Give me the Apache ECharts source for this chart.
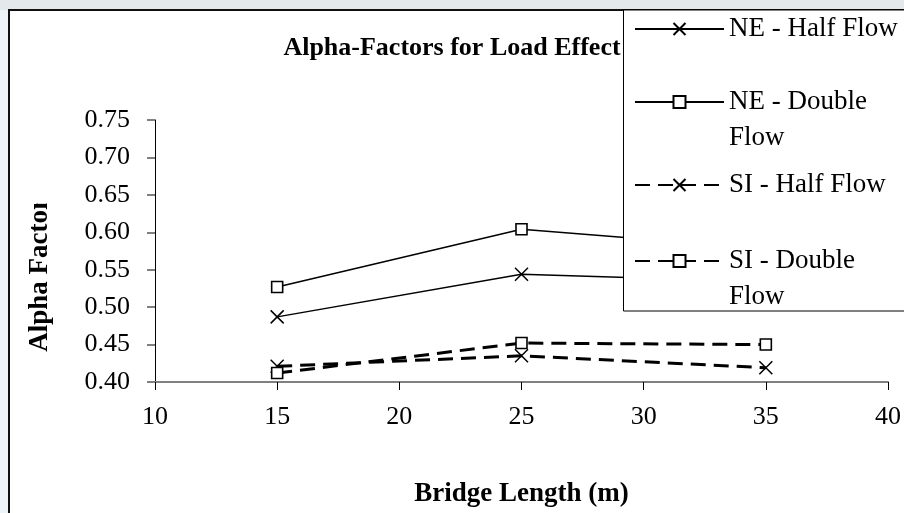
<!DOCTYPE html>
<html>
<head>
<meta charset="utf-8">
<style>
  html, body { margin: 0; padding: 0; }
  #chart { width: 904px; height: 513px; }
</style>
<script src="https://cdn.jsdelivr.net/npm/echarts@6/dist/echarts.min.js"></script>
</head>
<body>
<div id="chart"></div>
<script>
// Bridge lengths (m) and alpha factors per traffic case
const lengths = [15, 25, 35];
const neHalf = [0.487, 0.544, 0.534];
const neDouble = [0.527, 0.604, 0.578];
const siHalf = [0.421, 0.435, 0.419];
const siDouble = [0.412, 0.452, 0.450];

const seriesNames = ['NE - Half Flow', 'NE - Double Flow', 'SI - Half Flow', 'SI - Double Flow'];
const xTicks = { min: 10, max: 40, step: 5 };
const yTicks = { min: 0.40, max: 0.75, step: 0.05 };

const FONT = '"Liberation Serif", "Times New Roman", serif';
const CROSS = 'path://M0,0L10,10M10,0L0,10';

function pairs(ys) { return lengths.map((x, i) => [x, ys[i]]); }

function makeSeries(name, ys, dashed, marker) {
  const isSquare = marker === 'square';
  return {
    name: name,
    type: 'line',
    data: pairs(ys),
    symbol: isSquare ? 'rect' : CROSS,
    symbolSize: isSquare ? 11 : 13,
    lineStyle: { color: '#000', width: dashed ? 3 : 1.5, type: dashed ? [15, 8] : 'solid' },
    itemStyle: { color: isSquare ? '#fff' : '#000', borderColor: '#000', borderWidth: isSquare ? 1.6 : 1.5 },
    emphasis: { disabled: true },
    z: 3
  };
}

// One legend block per entry; long names wrap so "Flow" sits on a second line
function makeLegend(name, centerY, twoLines) {
  const text = twoLines ? '\n' + name.replace(/ Flow$/, '\nFlow') : name;
  return {
    data: [name],
    left: 634,
    top: twoLines ? centerY - 54 : centerY - 18,
    padding: 0,
    itemWidth: 89,
    itemHeight: 15,
    selectedMode: false,
    z: 20,
    formatter: () => text,
    textStyle: { fontFamily: FONT, fontSize: 27, color: '#000', lineHeight: 36 }
  };
}

const chart = echarts.init(document.getElementById('chart'));
chart.setOption({
  animation: false,
  backgroundColor: '#eef5f8',
  textStyle: { fontFamily: FONT },
  title: {
    text: 'Alpha-Factors for Load Effect',
    left: 447,
    top: 30,
    textAlign: 'center',
    textStyle: { fontFamily: FONT, fontSize: 26, fontWeight: 'bold', color: '#000' }
  },
  graphic: [
    { type: 'rect', z: -5, shape: { x: 0, y: 0, width: 904, height: 10 }, style: { fill: '#e4e8ea' } },
    { type: 'rect', z: -4, shape: { x: 9, y: 10, width: 1000, height: 1000 }, style: { fill: '#fff', stroke: '#111', lineWidth: 2 } },
    { type: 'rect', z: 10, shape: { x: 623.5, y: 10, width: 400, height: 301 }, style: { fill: '#fff', stroke: '#000', lineWidth: 1 } },
    {
      type: 'text', z: 5, x: 40, y: 275, rotation: Math.PI / 2,
      style: { text: 'Alpha Factor', fontFamily: FONT, fontSize: 27, fontWeight: 'bold', fill: '#000', align: 'center', verticalAlign: 'middle' }
    },
    // the axis title box is slightly too short, so its last letter is cut
    { type: 'rect', z: 6, shape: { x: 22, y: 185, width: 36, height: 18.5 }, style: { fill: '#fff' } }
  ],
  legend: [
    makeLegend(seriesNames[0], 29, false),
    makeLegend(seriesNames[1], 102, true),
    makeLegend(seriesNames[2], 185, false),
    makeLegend(seriesNames[3], 261, true)
  ],
  grid: { left: 155, right: 14, top: 120, bottom: 131 },
  xAxis: {
    type: 'value',
    min: xTicks.min, max: xTicks.max, interval: xTicks.step,
    name: 'Bridge Length (m)',
    nameLocation: 'middle',
    nameGap: 99,
    nameTextStyle: { fontFamily: FONT, fontSize: 27, fontWeight: 'bold', color: '#000' },
    axisLine: { lineStyle: { color: '#808080', width: 2 } },
    axisTick: { length: 8, lineStyle: { color: '#000', width: 1 } },
    axisLabel: { margin: 22, fontFamily: FONT, fontSize: 26, color: '#000' },
    splitLine: { show: false }
  },
  yAxis: {
    type: 'value',
    min: yTicks.min, max: yTicks.max, interval: yTicks.step,
    axisLine: { show: true, lineStyle: { color: '#000', width: 1 } },
    axisTick: { show: true, length: 8, lineStyle: { color: '#808080', width: 2 } },
    axisLabel: { margin: 25, fontFamily: FONT, fontSize: 26, color: '#000', formatter: v => v.toFixed(2) },
    splitLine: { show: false }
  },
  series: [
    makeSeries(seriesNames[0], neHalf, false, 'cross'),
    makeSeries(seriesNames[1], neDouble, false, 'square'),
    makeSeries(seriesNames[2], siHalf, true, 'cross'),
    makeSeries(seriesNames[3], siDouble, true, 'square')
  ]
});
</script>
</body>
</html>
